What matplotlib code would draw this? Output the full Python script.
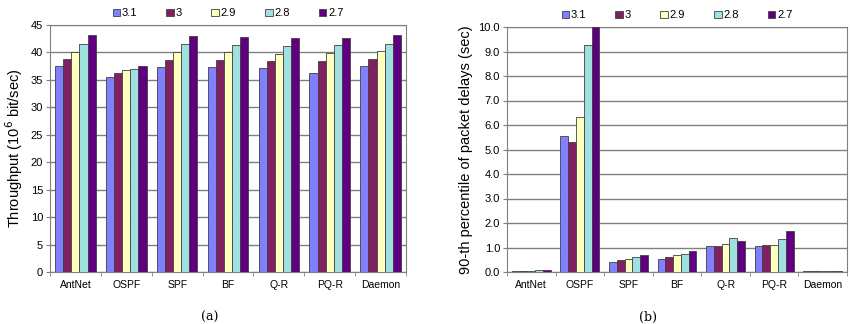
import numpy as np
from matplotlib import pyplot as plt

plt.rcParams['font.family'] = ['Liberation Sans', 'DejaVu Sans']

routers = ['AntNet', 'OSPF', 'SPF', 'BF', 'Q-R', 'PQ-R', 'Daemon']
loads = ['3.1', '3', '2.9', '2.8', '2.7']
colors = ['#8080ff', '#802060', '#ffffc0', '#a0e0e0', '#600080']

# throughput (10^6 bit/sec), one list per mean inter-arrival time
throughput_31 = [37.5, 35.5, 37.4, 37.4, 37.2, 36.2, 37.5]
throughput_3 = [38.8, 36.3, 38.7, 38.6, 38.4, 38.5, 38.8]
throughput_29 = [40.1, 36.8, 40.0, 40.0, 39.7, 39.9, 40.2]
throughput_28 = [41.6, 37.0, 41.5, 41.4, 41.1, 41.3, 41.6]
throughput_27 = [43.1, 37.5, 43.0, 42.9, 42.7, 42.7, 43.1]

# 90-th percentile of packet delays (sec)
delay_31 = [0.05, 5.55, 0.41, 0.54, 1.06, 1.07, 0.04]
delay_3 = [0.05, 5.30, 0.48, 0.61, 1.05, 1.10, 0.04]
delay_29 = [0.06, 6.31, 0.54, 0.68, 1.14, 1.10, 0.04]
delay_28 = [0.09, 9.25, 0.61, 0.75, 1.37, 1.35, 0.04]
delay_27 = [0.09, 10.0, 0.71, 0.87, 1.25, 1.67, 0.04]

throughput = [throughput_31, throughput_3, throughput_29, throughput_28, throughput_27]
delays = [delay_31, delay_3, delay_29, delay_28, delay_27]


def bar_panel(ax, series, ymax, step, fmt, ylabel):
    x = np.arange(len(routers))
    w = 0.16
    for i, vals in enumerate(series):
        ax.bar(x + (i - 2) * w, vals, w, color=colors[i], edgecolor='#404040',
               linewidth=0.6, label=loads[i], zorder=3)
    ax.set_xlim(-0.5, len(routers) - 0.5)
    ax.set_ylim(0, ymax)
    ticks = np.arange(0, ymax + step / 2, step)
    ax.set_yticks(ticks)
    ax.set_yticklabels([fmt.format(t) for t in ticks], fontsize=8)
    ax.yaxis.grid(True, color='#808080', linewidth=1.0, zorder=0)
    ax.set_xticks(x)
    ax.set_xticklabels(routers, fontsize=7.5)
    ax.set_xticks(np.arange(-0.5, len(routers)), minor=True)
    ax.tick_params(axis='x', which='major', length=0, pad=6)
    ax.tick_params(axis='x', which='minor', length=3, direction='out', color='#808080')
    ax.tick_params(axis='y', length=3, color='#808080', pad=2)
    for s in ax.spines.values():
        s.set_color('#808080')
    ax.set_ylabel(ylabel, fontsize=10.5)
    ax.legend(loc='lower center', bbox_to_anchor=(0.5, 1.0), ncol=5, frameon=False,
              fontsize=8, handlelength=0.7, handleheight=0.7, handletextpad=0.15,
              columnspacing=2.6, borderaxespad=0.2)


fig = plt.figure(figsize=(8.5, 3.24), dpi=100)
ax1 = fig.add_axes([50 / 850, 1 - 272 / 324, 356 / 850, 247 / 324])
ax2 = fig.add_axes([507 / 850, 1 - 272 / 324, 340 / 850, 245 / 324])

bar_panel(ax1, throughput, 45, 5, '{:.0f}', 'Throughput (10$^6$ bit/sec)')
bar_panel(ax2, delays, 10, 1, '{:.1f}', '90-th percentile of packet delays (sec)')

fig.text(210 / 850, 1 - 317 / 324, '(a)', family='DejaVu Serif', fontsize=9, ha='center', va='center')
fig.text(648 / 850, 1 - 317 / 324, '(b)', family='DejaVu Serif', fontsize=9, ha='center', va='center')

plt.savefig('out.png', format='png', dpi=100)
